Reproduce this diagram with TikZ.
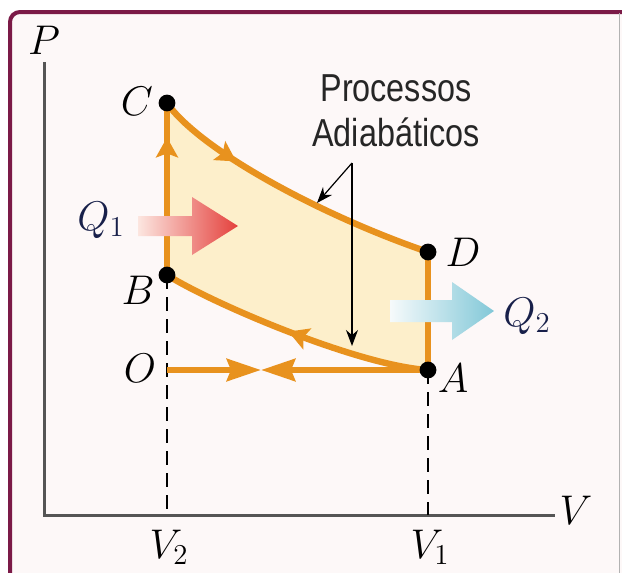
\documentclass[tikz,border=0pt]{standalone}
\usepackage{amsmath}
\usepackage{fontspec}
\newfontfamily\notefont[FakeStretch=0.83]{Liberation Sans}
\usetikzlibrary{arrows.meta, positioning, calc, decorations.markings}

\definecolor{cycorange}{HTML}{E8921E}
\definecolor{cycfill}{HTML}{FDEFCB}
\definecolor{framecol}{HTML}{7B1A47}
\definecolor{bgpink}{HTML}{FDF8F8}
\definecolor{axisgray}{HTML}{555555}
\definecolor{qnavy}{HTML}{18204A}
\definecolor{heatred}{HTML}{E4403C}
\definecolor{heatpale}{HTML}{FCE6E0}
\definecolor{coldblue}{HTML}{82C8D8}
\definecolor{coldpale}{HTML}{F6FAFB}

\begin{document}
\begin{tikzpicture}[
    x=0.5pt, y=-0.5pt,
    cyc/.style={cycorange, line width=3.2pt, line join=round},
    tipmark/.style={postaction={decorate}, decoration={markings,
        mark=at position #1 with {\arrow{Stealth[length=10pt, width=11pt, inset=2pt]}}}},
    lbl/.style={font=\fontsize{21}{24}\selectfont},
    axis/.style={axisgray, line width=1.5pt},
    dashline/.style={black, line width=0.6pt, dash pattern=on 7pt off 4pt},
    pointer/.style={-{Stealth[length=8pt, width=6pt]}, line width=0.6pt},
    note/.style={align=center, text=black!85,
        font=\notefont\fontsize{19.5}{22.5}\selectfont}
]
\useasboundingbox (0,0) rectangle (622,573);

% --- Frame ---
\fill[bgpink] (10,12) rectangle (622,573);
\draw[framecol, line width=2pt, rounded corners=5pt] (10,600) -- (10,12) -- (640,12);
\draw[gray!60, line width=0.5pt] (619,13) -- (619,573);

% --- Axes ---
\coordinate (orig) at (44,515);
\coordinate (ptop) at (44,62);
\coordinate (vend) at (555,515);
\draw[axis] (ptop) -- (orig) -- (vend);
\node[lbl] (Plbl) at (44,40) {$P$};
\node[lbl] (Vlbl) at (576,510) {$V$};

% --- State points ---
\coordinate (C) at (167,103);
\coordinate (B) at (167,275);
\coordinate (D) at (428,252);
\coordinate (A) at (428,370);
\coordinate (O) at (167,370);
\coordinate (meet) at (261,370);
\coordinate (v2) at (167,515);
\coordinate (v1) at (428,515);

% --- Cycle area ---
\fill[cycfill] (B) -- (C) .. controls (200,150) and (320,215) .. (D)
    -- (A) .. controls (360,366) and (215,305) .. (B) -- cycle;

% --- Dashed volume lines ---
\draw[dashline] (B) -- (v2);
\draw[dashline] (A) -- (v1);

% --- Cycle paths ---
\draw[cyc, tipmark=0.8] (B) -- (C);
\draw[cyc, tipmark=0.3] (C) .. controls (200,150) and (320,215) .. (D);
\draw[cyc] (D) -- (A);
\draw[cyc, tipmark=0.52] (A) .. controls (360,366) and (215,305) .. (B);
\draw[cyc, -{Stealth[length=17pt, width=11pt, inset=2pt]}] (O) -- (meet);
\draw[cyc, -{Stealth[length=17pt, width=11pt, inset=2pt]}] (A) -- (meet);

% dots on top
\foreach \p in {C, B, D, A}
    \fill (\p) circle (4.2pt);

% --- Point labels ---
\node[lbl] (Clbl) at (137,101) {$C$};
\node[lbl] (Blbl) at (138,290) {$B$};
\node[lbl] (Dlbl) at (463,252) {$D$};
\node[lbl] (Albl) at (453,378) {$A$};
\node[lbl] (Olbl) at (140,368) {$O$};
\node[lbl] (V2lbl) at (169,547) {$V_2$};
\node[lbl] (V1lbl) at (430,547) {$V_1$};

% --- Heat arrows ---
\shade[left color=heatpale, right color=heatred]
    (138,216) -- (192,216) -- (192,197) -- (238,226) -- (192,255) -- (192,236) -- (138,236) -- cycle;
\node[lbl, text=qnavy] (Q1) at (101,220) {$Q_1$};
\shade[left color=coldpale, right color=coldblue]
    (390,300) -- (452,300) -- (452,282) -- (494,311) -- (452,340) -- (452,322) -- (390,322) -- cycle;
\node[lbl, text=qnavy] (Q2) at (527,316) {$Q_2$};

% --- Adiabatic note ---
\node[note] (proc) at (396,111) {Processos\\Adiabáticos};
\coordinate (ptr) at (352,163);
\coordinate (ptrA) at (317,203);
\coordinate (ptrB) at (352,346);
\draw[pointer] (ptr) -- (ptrA);
\draw[pointer] (ptr) -- (ptrB);

\end{tikzpicture}
\end{document}
